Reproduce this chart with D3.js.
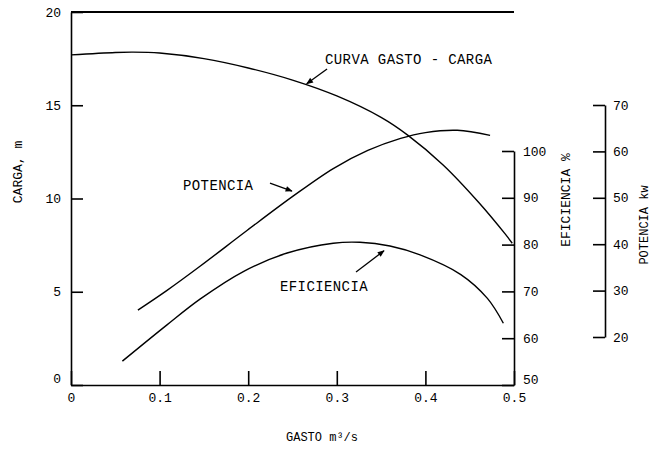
<!DOCTYPE html>
<html>
<head>
<meta charset="utf-8">
<script src="https://cdn.jsdelivr.net/npm/d3@7"></script>
<style>
  body { margin: 0; background: #fff; }
  svg text { font-family: "Liberation Mono", "DejaVu Sans Mono", monospace; fill: #000; }
</style>
</head>
<body>
<script>
// gasto (m3/s) and the three pump curves
var cargaQ = [0, 0.05, 0.07, 0.1, 0.15, 0.2, 0.25, 0.3, 0.35, 0.38, 0.42, 0.46, 0.49, 0.498];
var cargaH = [17.7, 17.83, 17.85, 17.8, 17.5, 17.0, 16.35, 15.5, 14.35, 13.4, 11.8, 9.8, 8.1, 7.6];

var potQ = [0.0755, 0.108, 0.146, 0.199, 0.251, 0.296, 0.335, 0.372, 0.4, 0.436, 0.473];
var potP = [25.8, 30.0, 35.3, 43.0, 50.4, 56.3, 60.2, 62.8, 64.05, 64.55, 63.45];

var efQ = [0.058, 0.108, 0.146, 0.195, 0.244, 0.296, 0.326, 0.36, 0.394, 0.44, 0.47, 0.488];
var efE = [55.1, 62.8, 68.4, 74.3, 78.2, 80.3, 80.5, 79.7, 77.8, 73.6, 68.5, 63.2];

var xTicks = [0, 0.1, 0.2, 0.3, 0.4, 0.5];
var cargaTicks = [0, 5, 10, 15, 20];
var efTicks = [50, 60, 70, 80, 90, 100];
var potTicks = [20, 30, 40, 50, 60, 70];

// labels with arrows, in gasto / carga units
var notes = [
    {text: "CURVA GASTO - CARGA", q: 0.2867, h: 17.2, from: [0.289, 16.94], to: [0.266, 16.15]},
    {text: "POTENCIA", q: 0.1264, h: 10.46, from: [0.2246, 10.83], to: [0.2494, 10.4]},
    {text: "EFICIENCIA", q: 0.2359, h: 5.04, from: [0.3217, 6.06], to: [0.3533, 7.2]}
];

(function() {
    var width = 654, height = 449;
    var left = 71, right = 514, top = 12, bottom = 385;

    var x = d3.scaleLinear().domain([0, 0.5]).range([left, right]);
    var yCarga = d3.scaleLinear().domain([0, 20]).range([bottom, top]);
    var yEf = d3.scaleLinear().domain([50, 100]).range([bottom, 151]);
    var yPot = d3.scaleLinear().domain([20, 70]).range([337, 105]);

    var svg = d3.select("body").append("svg")
        .attr("width", width)
        .attr("height", height);

    svg.append("defs").append("marker")
        .attr("id", "head")
        .attr("viewBox", "0 0 10 10")
        .attr("refX", 9).attr("refY", 5)
        .attr("markerWidth", 9).attr("markerHeight", 7)
        .attr("markerUnits", "userSpaceOnUse")
        .attr("orient", "auto")
        .append("path").attr("d", "M0,1 L10,5 L0,9 Z").attr("fill", "#000");

    function styleAxis(g) {
        g.selectAll("path, line").attr("stroke", "#000").attr("stroke-width", 1.6);
        g.selectAll("text").attr("font-size", 13).attr("font-family", "Liberation Mono, monospace");
    }

    var oneDec = d3.format(".1f");

    // box top edge
    svg.append("line").attr("x1", left).attr("x2", right).attr("y1", top).attr("y2", top)
        .attr("stroke", "#000").attr("stroke-width", 2);

    svg.append("g").attr("transform", "translate(0," + bottom + ")")
        .call(d3.axisBottom(x).tickValues(xTicks).tickSizeInner(-14).tickSizeOuter(0).tickPadding(8)
            .tickFormat(function(d) { return d === 0 ? "0" : oneDec(d); }))
        .call(styleAxis);

    svg.append("g").attr("transform", "translate(" + left + ",0)")
        .call(d3.axisLeft(yCarga).tickValues(cargaTicks).tickSizeInner(-12).tickSizeOuter(0).tickPadding(10))
        .call(styleAxis)
        .selectAll(".tick text").attr("dy", function(d) { return d === 0 ? "-0.2em" : "0.32em"; });

    svg.append("g").attr("transform", "translate(" + right + ",0)")
        .call(d3.axisRight(yEf).tickValues(efTicks).tickSizeInner(-12).tickSizeOuter(0).tickPadding(9))
        .call(styleAxis)
        .selectAll(".tick text").attr("dy", function(d) { return d === 50 ? "-0.1em" : "0.32em"; });

    svg.append("g").attr("transform", "translate(605,0)")
        .call(d3.axisRight(yPot).tickValues(potTicks).tickSizeInner(-12).tickSizeOuter(0).tickPadding(8))
        .call(styleAxis);

    // curves
    function drawCurve(qs, vs, yScale) {
        var pts = qs.map(function(q, i) { return [q, vs[i]]; });
        var line = d3.line()
            .x(function(d) { return x(d[0]); })
            .y(function(d) { return yScale(d[1]); })
            .curve(d3.curveCatmullRom.alpha(0.5));
        svg.append("path").datum(pts)
            .attr("d", line)
            .attr("fill", "none")
            .attr("stroke", "#000")
            .attr("stroke-width", 1.4);
    }
    drawCurve(cargaQ, cargaH, yCarga);
    drawCurve(potQ, potP, yPot);
    drawCurve(efQ, efE, yEf);

    notes.forEach(function(n) {
        svg.append("text")
            .attr("x", x(n.q)).attr("y", yCarga(n.h))
            .attr("font-size", 14)
            .attr("letter-spacing", 0.4)
            .text(n.text);
        svg.append("line")
            .attr("x1", x(n.from[0])).attr("y1", yCarga(n.from[1]))
            .attr("x2", x(n.to[0])).attr("y2", yCarga(n.to[1]))
            .attr("stroke", "#000").attr("stroke-width", 1.3)
            .attr("marker-end", "url(#head)");
    });

    // axis titles
    svg.append("text")
        .attr("transform", "translate(22,172) rotate(-90)")
        .attr("text-anchor", "middle").attr("font-size", 13)
        .text("CARGA, m");

    svg.append("text")
        .attr("x", 322).attr("y", 441)
        .attr("text-anchor", "middle").attr("font-size", 12)
        .text("GASTO m³/s");

    svg.append("text")
        .attr("transform", "translate(570,200) rotate(-90)")
        .attr("text-anchor", "middle").attr("font-size", 13)
        .text("EFICIENCIA %");

    svg.append("text")
        .attr("transform", "translate(648,225) rotate(-90)")
        .attr("text-anchor", "middle").attr("font-size", 12)
        .text("POTENCIA kw");
})();
</script>
</body>
</html>
